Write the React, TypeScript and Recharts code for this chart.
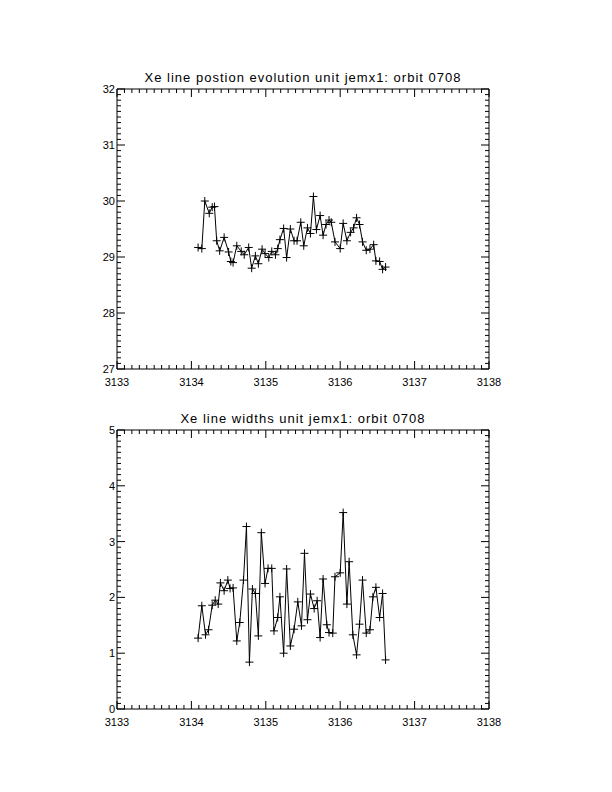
import React from 'react';
import { LineChart, Line, XAxis, YAxis } from 'recharts';

// time axis (days), shared tick labels
const xMajor = [3133, 3134, 3135, 3136, 3137, 3138];

// top panel: Xe line position
const posTime = [
  3134.09, 3134.14, 3134.18, 3134.24, 3134.28, 3134.31, 3134.34, 3134.38, 3134.44, 3134.50,
  3134.53, 3134.56, 3134.61, 3134.67, 3134.71, 3134.77, 3134.81, 3134.86, 3134.90, 3134.95,
  3134.99, 3135.04, 3135.08, 3135.13, 3135.16, 3135.19, 3135.24, 3135.28, 3135.33, 3135.38,
  3135.42, 3135.47, 3135.51, 3135.56, 3135.60, 3135.64, 3135.68, 3135.73, 3135.77, 3135.81,
  3135.85, 3135.88, 3135.93, 3136.00, 3136.04, 3136.09, 3136.14, 3136.18, 3136.22, 3136.26,
  3136.30, 3136.35, 3136.40, 3136.45, 3136.48, 3136.53, 3136.57, 3136.61,
];
const posValue = [
  29.17, 29.15, 30.0, 29.78, 29.89, 29.9, 29.29, 29.11, 29.35, 29.09,
  28.92, 28.9, 29.2, 29.1, 29.04, 29.17, 28.8, 29.02, 28.88, 29.14,
  29.06, 28.99, 29.1, 29.04, 29.15, 29.31, 29.51, 28.99, 29.5, 29.29,
  29.29, 29.62, 29.2, 29.52, 29.42, 30.08, 29.49, 29.74, 29.39, 29.58,
  29.66, 29.62, 29.27, 29.15, 29.6, 29.29, 29.44, 29.52, 29.7, 29.58,
  29.27, 29.12, 29.14, 29.22, 28.93, 28.92, 28.78, 28.82,
];
const posTicks = [27, 28, 29, 30, 31, 32];

// bottom panel: Xe line widths
const widthTime = [
  3134.09, 3134.14, 3134.19, 3134.23, 3134.28, 3134.32, 3134.36, 3134.39, 3134.44, 3134.49,
  3134.52, 3134.56, 3134.61, 3134.65, 3134.70, 3134.74, 3134.78, 3134.82, 3134.86, 3134.90,
  3134.94, 3134.99, 3135.03, 3135.08, 3135.11, 3135.16, 3135.19, 3135.24, 3135.28, 3135.33,
  3135.38, 3135.43, 3135.48, 3135.52, 3135.56, 3135.60, 3135.65, 3135.69, 3135.73, 3135.77,
  3135.82, 3135.85, 3135.90, 3135.93, 3136.00, 3136.04, 3136.09, 3136.12, 3136.17, 3136.22,
  3136.26, 3136.30, 3136.35, 3136.40, 3136.44, 3136.48, 3136.53, 3136.57, 3136.61,
];
const widthValue = [
  1.27, 1.85, 1.33, 1.42, 1.86, 1.95, 1.88, 2.26, 2.12, 2.31,
  2.16, 2.17, 1.22, 1.55, 2.31, 3.27, 0.84, 2.15, 2.07, 1.31,
  3.16, 2.25, 2.52, 2.52, 1.4, 1.64, 2.01, 1.0, 2.51, 1.13,
  1.43, 1.92, 1.49, 2.79, 1.6, 2.06, 1.8, 1.94, 1.28, 2.33,
  1.51, 1.37, 1.36, 2.37, 2.44, 3.52, 1.88, 2.64, 1.33, 0.97,
  1.52, 2.31, 1.36, 1.42, 2.01, 2.18, 1.64, 2.07, 0.88,
];
const widthTicks = [0, 1, 2, 3, 4, 5];

const FONT = '"Liberation Sans", Arial, sans-serif';
const MAJOR = 8;
const MINOR = 4;

// 10 minor intervals between consecutive major ticks
function withMinors(major: number[]) {
  const out: number[] = [];
  for (let i = 0; i < major.length - 1; i++) {
    for (let k = 0; k < 10; k++) out.push(Math.round((major[i] + ((major[i + 1] - major[i]) * k) / 10) * 1000) / 1000);
  }
  out.push(major[major.length - 1]);
  return out;
}

const isMajor = (v: number) => Math.abs(v - Math.round(v)) < 1e-6;

function makeTick(side: 'bottom' | 'top' | 'left' | 'right') {
  return (props: any) => {
    const { x, y, payload } = props;
    const v = payload.value as number;
    const len = isMajor(v) ? MAJOR : MINOR;
    let line;
    if (side === 'bottom') line = <line x1={x} x2={x} y1={y} y2={y - len} stroke="#000" />;
    else if (side === 'top') line = <line x1={x} x2={x} y1={y} y2={y + len} stroke="#000" />;
    else if (side === 'left') line = <line x1={x} x2={x + len} y1={y} y2={y} stroke="#000" />;
    else line = <line x1={x} x2={x - len} y1={y} y2={y} stroke="#000" />;
    let label = null;
    if (isMajor(v) && side === 'bottom')
      label = (
        <text x={x} y={y + 17} textAnchor="middle" fontSize={11} fontFamily={FONT} fill="#000">
          {Math.round(v)}
        </text>
      );
    if (isMajor(v) && side === 'left')
      label = (
        <text x={x - 2} y={y + 4} textAnchor="end" fontSize={11} fontFamily={FONT} fill="#000">
          {Math.round(v)}
        </text>
      );
    return (
      <g>
        {line}
        {label}
      </g>
    );
  };
}

const Cross = (props: any) => {
  const { cx, cy } = props;
  if (cx == null || cy == null) return null;
  return <path d={`M${cx - 4},${cy}h8M${cx},${cy - 4}v8`} stroke="#000" strokeWidth={1} fill="none" />;
};

function Panel({
  data,
  yTicks,
  top,
  height,
  margin,
}: {
  data: { x: number; y: number }[];
  yTicks: number[];
  top: number;
  height: number;
  margin: { top: number; right: number; bottom: number; left: number };
}) {
  const xAll = withMinors(xMajor);
  const yAll = withMinors(yTicks);
  const xDomain = [xMajor[0], xMajor[xMajor.length - 1]];
  const yDomain = [yTicks[0], yTicks[yTicks.length - 1]];
  const axisLine = { stroke: '#000', strokeWidth: 1 };
  // axes are 1px thick so they render; margins are shrunk by 1 to compensate
  const m = { top: margin.top - 1, right: margin.right - 1, bottom: margin.bottom - 1, left: margin.left - 1 };
  return (
    <div style={{ position: 'absolute', left: 0, top }}>
      <LineChart width={612} height={height} data={data} margin={m}>
        <XAxis xAxisId="b" type="number" dataKey="x" domain={xDomain} ticks={xAll} interval={0} allowDataOverflow
          height={1} tickSize={0} tickMargin={0} tickLine={false} axisLine={axisLine} tick={makeTick('bottom')} />
        <XAxis xAxisId="t" orientation="top" type="number" dataKey="x" domain={xDomain} ticks={xAll} interval={0}
          allowDataOverflow height={1} tickSize={0} tickMargin={0} tickLine={false} axisLine={axisLine} tick={makeTick('top')} />
        <YAxis yAxisId="l" type="number" domain={yDomain} ticks={yAll} interval={0} allowDataOverflow width={1}
          tickSize={0} tickMargin={0} tickLine={false} axisLine={axisLine} tick={makeTick('left')} />
        <YAxis yAxisId="r" orientation="right" type="number" domain={yDomain} ticks={yAll} interval={0} allowDataOverflow
          width={1} tickSize={0} tickMargin={0} tickLine={false} axisLine={axisLine} tick={makeTick('right')} />
        <Line xAxisId="b" yAxisId="l" type="linear" dataKey="y" stroke="#000" strokeWidth={1}
          dot={<Cross />} activeDot={false} isAnimationActive={false} />
      </LineChart>
    </div>
  );
}

const titleStyle: React.CSSProperties = {
  position: 'absolute',
  left: 117,
  width: 372,
  textAlign: 'center',
  fontFamily: FONT,
  fontSize: 13,
  letterSpacing: '1px',
  lineHeight: '14px',
  color: '#000',
  whiteSpace: 'nowrap',
};

export default function App() {
  const posData = posTime.map((x, i) => ({ x, y: posValue[i] }));
  const widthData = widthTime.map((x, i) => ({ x, y: widthValue[i] }));
  return (
    <div style={{ position: 'absolute', left: 0, top: 0, width: 612, height: 792, background: '#fff' }}>
      <div style={{ ...titleStyle, top: 71 }}>Xe line postion evolution unit jemx1: orbit 0708</div>
      <Panel data={posData} yTicks={posTicks} top={0} height={400}
        margin={{ top: 89, right: 123, bottom: 31, left: 117 }} />
      <div style={{ ...titleStyle, top: 412 }}>Xe line widths unit jemx1: orbit 0708</div>
      <Panel data={widthData} yTicks={widthTicks} top={400} height={392}
        margin={{ top: 30, right: 123, bottom: 83, left: 117 }} />
    </div>
  );
}
